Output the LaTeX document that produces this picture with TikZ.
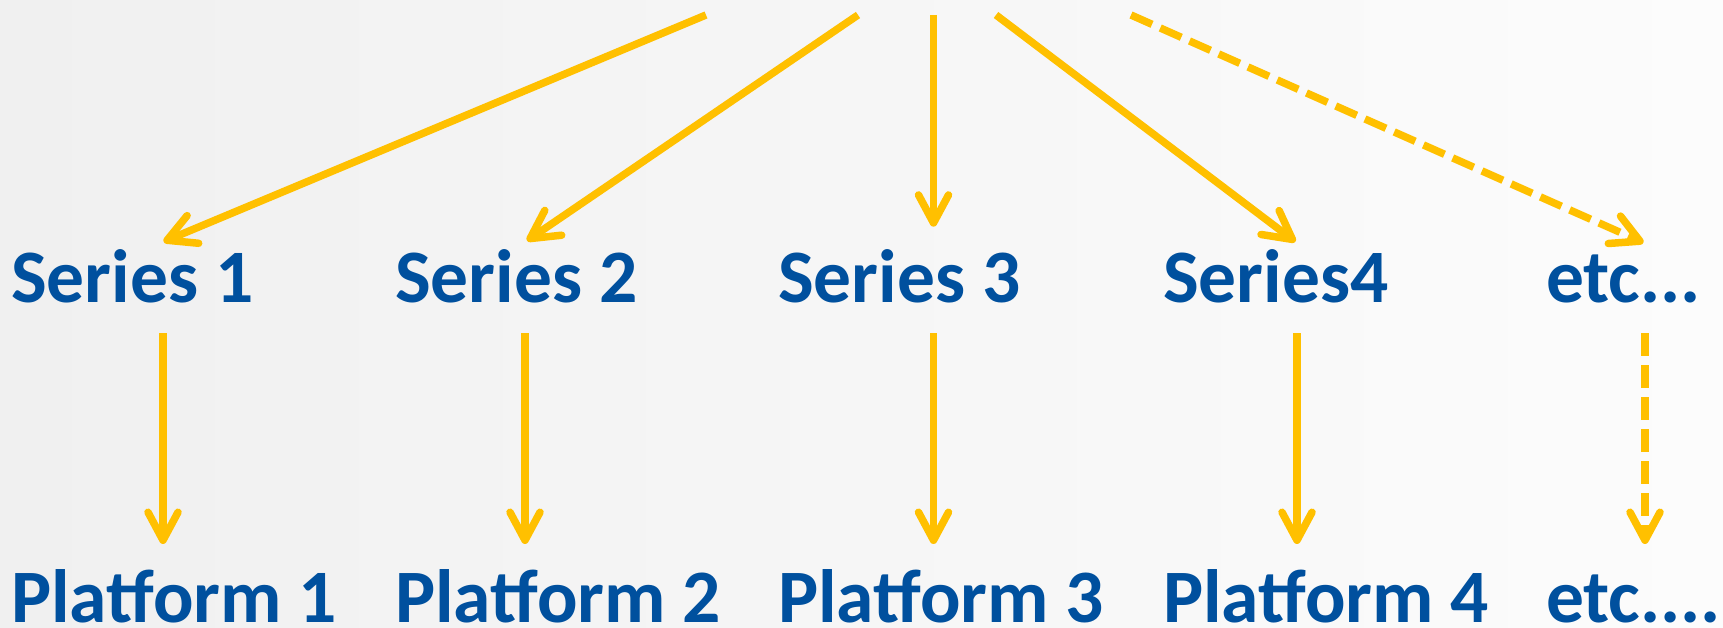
\documentclass[tikz,border=0pt]{standalone}
\usepackage{fontspec}
\setmainfont{Carlito}
\usetikzlibrary{arrows.meta}
\definecolor{gold}{HTML}{FFC000}
\definecolor{txtblue}{HTML}{00509E}
\definecolor{bgA}{HTML}{F0F0F0}
\definecolor{bgB}{HTML}{FCFCFC}
\begin{document}
\begin{tikzpicture}[x=1pt,y=1pt,
  lbl/.style={anchor=base west, inner sep=0pt, outer sep=0pt, text=txtblue,
    font=\fontsize{75.5}{75.5}\selectfont\bfseries},
  arr/.style={draw=gold, line width=7.5pt,
    -{Straight Barb[length=28pt,width=30pt,round]}},
  dsh/.style={arr, dash pattern=on 23pt off 9pt}]
\shade[left color=bgA, right color=bgB] (0,0) rectangle (1723,628);
\useasboundingbox (0,0) rectangle (1723,628);

% series labels
\node[lbl] (s1) at (11,325.3) {Series 1};
\node[lbl] (s2) at (395,325.3) {Series 2};
\node[lbl] (s3) at (778,325.3) {Series 3};
\node[lbl] (s4) at (1163,325.3) {Series4};
\node[lbl] (s5) at (1546,325.3) {etc...};

% platform labels
\node[lbl] (p1) at (11,5) {Platform 1};
\node[lbl] (p2) at (395,5) {Platform 2};
\node[lbl] (p3) at (778,5) {Platform 3};
\node[lbl] (p4) at (1163,5) {Platform 4};
\node[lbl] (p5) at (1546,5) {etc....};

% top sources
\coordinate (t1) at (706,613);
\coordinate (t2) at (858,613);
\coordinate (t3) at (933.5,613);
\coordinate (t4) at (996,613);
\coordinate (t5) at (1131,613);

% tips above series
\coordinate (a1) at (163.6,386.3);
\coordinate (a2) at (527,387.3);
\coordinate (a3) at (933.5,401.3);
\coordinate (a4) at (1295.4,386.3);
\coordinate (a5) at (1643.4,385.3);

% vertical arrow ends
\coordinate (b1) at (163,294.7);  \coordinate (c1) at (163,84);
\coordinate (b2) at (525,294.7);  \coordinate (c2) at (525,84);
\coordinate (b3) at (933.5,294.7);\coordinate (c3) at (933.5,84);
\coordinate (b4) at (1297,294.7); \coordinate (c4) at (1297,84);
\coordinate (b5) at (1645,294.7); \coordinate (c5) at (1645,84);

\draw[arr] (t1) -- (a1);
\draw[arr] (t2) -- (a2);
\draw[arr] (t3) -- (a3);
\draw[arr] (t4) -- (a4);
\draw[dsh] (t5) -- (a5);

\draw[arr] (b1) -- (c1);
\draw[arr] (b2) -- (c2);
\draw[arr] (b3) -- (c3);
\draw[arr] (b4) -- (c4);
\draw[dsh] (b5) -- (c5);
\end{tikzpicture}
\end{document}
